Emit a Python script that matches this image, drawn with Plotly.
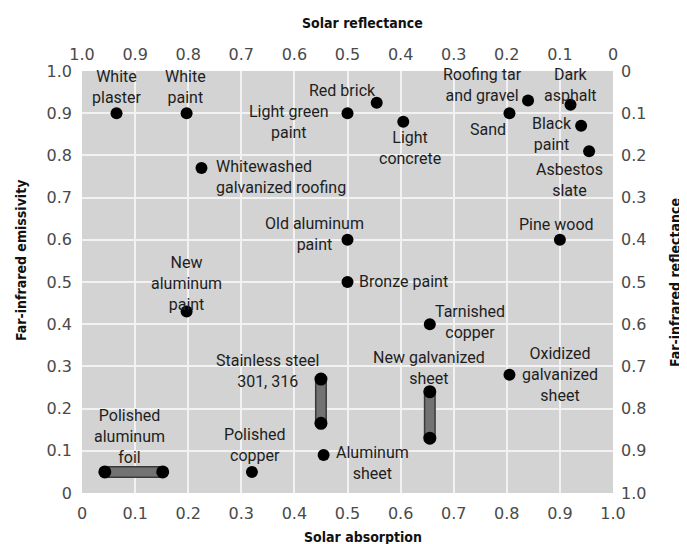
import plotly.graph_objects as go

# ---- data (x = solar absorption, y = far-infrared emissivity) ----
point_names = ["White plaster", "White paint", "Light green paint", "Red brick",
               "Light concrete", "Sand", "Roofing tar and gravel", "Dark asphalt",
               "Black paint", "Asbestos slate", "Whitewashed galvanized roofing",
               "Old aluminum paint", "Pine wood", "Bronze paint", "New aluminum paint",
               "Tarnished copper", "Oxidized galvanized sheet", "Polished copper",
               "Aluminum sheet"]
point_absorption = [0.065, 0.197, 0.50, 0.555, 0.605, 0.805, 0.84, 0.92, 0.94, 0.955, 0.225,
                    0.50, 0.90, 0.50, 0.197, 0.655, 0.805, 0.32, 0.455]
point_emissivity = [0.90, 0.90, 0.90, 0.925, 0.88, 0.90, 0.93, 0.92, 0.87, 0.81, 0.77,
                    0.60, 0.60, 0.50, 0.43, 0.40, 0.28, 0.05, 0.09]

range_names = ["Polished aluminum foil", "Stainless steel 301, 316", "New galvanized sheet"]
range_abs_lo = [0.043, 0.45, 0.655]
range_abs_hi = [0.152, 0.45, 0.655]
range_emis_lo = [0.05, 0.165, 0.13]
range_emis_hi = [0.05, 0.27, 0.24]

# label texts with their anchor positions in data units
label_texts = ["White<br>plaster", "White<br>paint", "Light green<br>paint", "Red brick",
               "Light<br>concrete", "Sand", "Roofing tar<br>and gravel", "Dark<br>asphalt",
               "Black<br>paint", "Asbestos<br>slate", "Whitewashed<br>galvanized roofing",
               "Old aluminum<br>paint", "Pine wood", "Bronze paint", "New<br>aluminum<br>paint",
               "Tarnished<br>copper", "Oxidized<br>galvanized<br>sheet", "Polished<br>copper",
               "Aluminum<br>sheet", "Polished<br>aluminum<br>foil", "Stainless steel<br>301, 316",
               "New galvanized<br>sheet"]
label_x = [0.065, 0.195, 0.39, 0.49, 0.617, 0.764, 0.755, 0.92, 0.885, 0.919, 0.249,
           0.438, 0.894, 0.517, 0.196, 0.73, 0.90, 0.325, 0.547, 0.089, 0.349, 0.653]
label_y = [0.962, 0.962, 0.880, 0.953, 0.818, 0.861, 0.966, 0.966, 0.851, 0.742, 0.749,
           0.614, 0.636, 0.501, 0.496, 0.406, 0.280, 0.114, 0.072, 0.133, 0.290, 0.296]
label_align = ["center", "center", "center", "center", "center", "center", "center",
               "center", "center", "center", "left", "center", "center", "left",
               "center", "center", "center", "center", "center", "center", "center", "center"]

tick_absorption = [0, 0.1, 0.2, 0.3, 0.4, 0.5, 0.6, 0.7, 0.8, 0.9, 1.0]
tick_absorption_text = ["0", "0.1", "0.2", "0.3", "0.4", "0.5", "0.6", "0.7", "0.8", "0.9", "1.0"]
tick_reflectance = [1.0, 0.9, 0.8, 0.7, 0.6, 0.5, 0.4, 0.3, 0.2, 0.1, 0]
tick_reflectance_text = ["1.0", "0.9", "0.8", "0.7", "0.6", "0.5", "0.4", "0.3", "0.2", "0.1", "0"]
tick_emissivity = [0, 0.1, 0.2, 0.3, 0.4, 0.5, 0.6, 0.7, 0.8, 0.9, 1.0]
tick_emissivity_text = ["0", "0.1", "0.2", "0.3", "0.4", "0.5", "0.6", "0.7", "0.8", "0.9", "1.0"]
tick_fir_refl = [0, 0.1, 0.2, 0.3, 0.4, 0.5, 0.6, 0.7, 0.8, 0.9, 1.0]
tick_fir_refl_text = ["0", "0.1", "0.2", "0.3", "0.4", "0.5", "0.6", "0.7", "0.8", "0.9", "1.0"]

LABEL_FONT = dict(family="Roboto, DejaVu Sans, sans-serif", size=16, color="#1e1e1e")
TICK_FONT = dict(family="DejaVu Sans, Roboto, sans-serif", size=16, color="#4a4a4a")
TITLE_FONT = dict(family="DejaVu Sans Condensed, DejaVu Sans, sans-serif", size=14, color="#111111")

fig = go.Figure()

# range bars
for i in range(len(range_names)):
    fig.add_trace(go.Scatter(
        x=[range_abs_lo[i], range_abs_hi[i]], y=[range_emis_lo[i], range_emis_hi[i]],
        mode="lines", line=dict(color="#3a3a3a", width=12), hoverinfo="skip", showlegend=False))
    fig.add_trace(go.Scatter(
        x=[range_abs_lo[i], range_abs_hi[i]], y=[range_emis_lo[i], range_emis_hi[i]],
        mode="lines+markers", line=dict(color="#727272", width=9),
        marker=dict(color="black", size=13, symbol="circle"),
        name=range_names[i], showlegend=False))

# points
fig.add_trace(go.Scatter(
    x=point_absorption, y=point_emissivity, mode="markers", text=point_names,
    marker=dict(color="black", size=12, symbol="circle"), showlegend=False))

# invisible trace on secondary axes
fig.add_trace(go.Scatter(x=[1 - v for v in point_absorption],
                         y=[1 - v for v in point_emissivity],
                         xaxis="x2", yaxis="y2", mode="markers",
                         marker=dict(opacity=0), hoverinfo="skip", showlegend=False))

for t, x, y, a in zip(label_texts, label_x, label_y, label_align):
    fig.add_annotation(x=x, y=y, xref="x", yref="y", text=t, showarrow=False,
                       font=LABEL_FONT, align=a,
                       xanchor="left" if a == "left" else "center", yanchor="middle")

titles = [("<b>Solar reflectance</b>", 0.529, 1.114, 0),
          ("<b>Solar absorption</b>", 0.529, -0.104, 0),
          ("<b>Far-infrared emissivity</b>", -0.115, 0.552, -90),
          ("<b>Far-infrared reflectance</b>", 1.117, 0.498, -90)]
for t, x, y, ang in titles:
    fig.add_annotation(x=x, y=y, xref="paper", yref="paper", text=t, showarrow=False,
                       font=TITLE_FONT, textangle=ang, xanchor="center", yanchor="middle")

axis_common = dict(showline=False, zeroline=False, ticks="", tickfont=TICK_FONT)
# page body has an 8px margin, so the figure is offset by (8, 8) on screen
fig.update_layout(
    width=679, height=536,
    margin=dict(l=74, r=74, t=63, b=51),
    paper_bgcolor="white", plot_bgcolor="#d3d3d3",
    xaxis=dict(range=[0, 1], tickvals=tick_absorption, ticktext=tick_absorption_text,
               showgrid=True, gridcolor="#f2f2f2", gridwidth=1.5, ticklabelstandoff=9,
               **axis_common),
    xaxis2=dict(range=[1, 0], overlaying="x", side="top", tickvals=tick_reflectance,
                ticktext=tick_reflectance_text, showgrid=False, ticklabelstandoff=7,
                **axis_common),
    yaxis=dict(range=[0, 1], tickvals=tick_emissivity, ticktext=tick_emissivity_text,
               showgrid=True, gridcolor="#f2f2f2", gridwidth=1.5, ticklabelstandoff=9,
               **axis_common),
    yaxis2=dict(range=[1, 0], overlaying="y", side="right", tickvals=tick_fir_refl,
                ticktext=tick_fir_refl_text, showgrid=False, ticklabelstandoff=7,
                **axis_common),
)

fig.write_html("out.html")
